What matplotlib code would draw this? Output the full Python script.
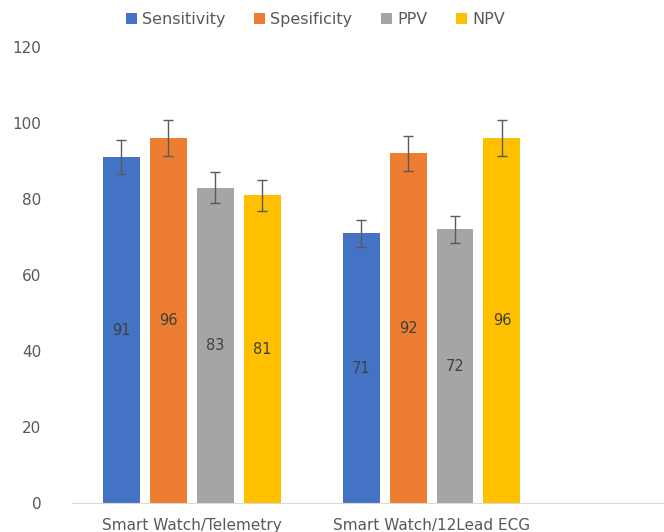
import numpy as np
import matplotlib.pyplot as plt

plt.rcParams['font.family'] = ['DejaVu Sans']

groups = ['Smart Watch/Telemetry', 'Smart Watch/12Lead ECG']
series = ['Sensitivity', 'Spesificity', 'PPV', 'NPV']
values = [[91, 71], [96, 92], [83, 72], [81, 96]]
errors = [[4.55, 3.55], [4.8, 4.6], [4.15, 3.6], [4.05, 4.8]]
colors = ['#4472C4', '#ED7D31', '#A5A5A5', '#FFC000']

fig = plt.figure(figsize=(6.64, 5.32), dpi=100)
ax = fig.add_axes([72/664, 29/532, 1 - 72/664, 456/532])

x = np.arange(len(groups))
step = 47/240
width = 37/240
for i, name in enumerate(series):
    pos = x + (i - 1.5)*step
    ax.bar(pos, values[i], width, color=colors[i], label=name,
           yerr=errors[i], capsize=3.5,
           error_kw=dict(ecolor='#5a5a5a', elinewidth=1, capthick=1))
    for p, v in zip(pos, values[i]):
        ax.text(p, v/2, str(v), ha='center', va='center',
                fontsize=10.5, color='#404040')

ax.set_xlim(-0.5, 1.97)
ax.set_ylim(0, 120)
ax.set_yticks(range(0, 121, 20))
ax.set_xticks(x)
ax.set_xticklabels(groups, fontsize=12.5)
ax.tick_params(length=0, labelsize=11, colors='#595959')
ax.tick_params(axis='y', pad=22)
ax.tick_params(axis='x', pad=11)
for s in ['top', 'right', 'left']:
    ax.spines[s].set_visible(False)
ax.spines['bottom'].set_color('#d9d9d9')

fig.legend(loc='upper center', bbox_to_anchor=(0.475, 1.005), ncol=4,
           frameon=False, fontsize=11.5, handlelength=0.7, handleheight=0.7,
           handletextpad=0.3, columnspacing=1.8, labelcolor='#595959')

plt.savefig('out.png', dpi=100)
